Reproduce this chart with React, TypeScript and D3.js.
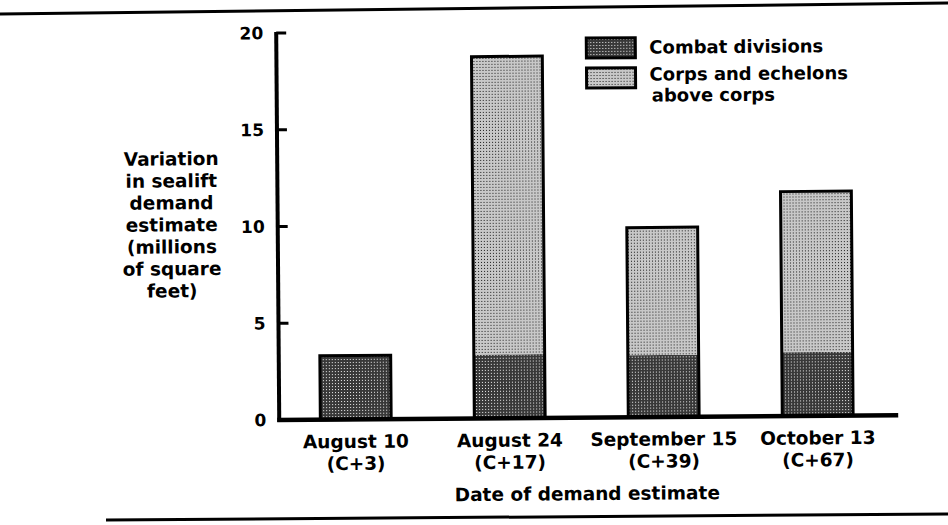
import React from 'react';
import * as d3 from 'd3';

const categories = ['August 10', 'August 24', 'September 15', 'October 13'];
const subLabels = ['(C+3)', '(C+17)', '(C+39)', '(C+67)'];
const combatDivisions = [3.3, 3.3, 3.2, 3.3];
const corpsAndEchelons = [0, 15.4, 6.6, 8.3];
const yTicks = [0, 5, 10, 15, 20];
const seriesKeys = ['combat', 'corps'];
const legendLines = [['Combat divisions'], ['Corps and echelons', 'above corps']];
const yTitleLines = ['Variation', 'in sealift', 'demand', 'estimate', '(millions', 'of square', 'feet)'];
const xTitle = 'Date of demand estimate';

const W = 948;
const H = 525;
const FONT = '"DejaVu Sans", "Liberation Sans", Arial, sans-serif';

export default function App() {
  const rows = categories.map((c, i) => ({ cat: c, combat: combatDivisions[i], corps: corpsAndEchelons[i] }));
  const stack = d3.stack<any>().keys(seriesKeys)(rows);

  const x = d3.scaleBand<string>().domain(categories).range([276, 895]).paddingInner(0.54).paddingOuter(0.28);
  const y = d3.scaleLinear().domain([0, 20]).range([418.5, 31.5]);
  const axisX = 278;
  const fills = ['url(#patDark)', 'url(#patLight)'];

  return (
    <svg width={W} height={H} style={{ position: 'absolute', left: 0, top: 0, background: '#fff' }} fontFamily={FONT}>
      <defs>
        <pattern id="patDark" width="3" height="3" patternUnits="userSpaceOnUse">
          <rect width="3" height="3" fill="#383838" />
          <rect x="1" y="1" width="1" height="1" fill="#eeeeee" />
        </pattern>
        <pattern id="patLight" width="3" height="3" patternUnits="userSpaceOnUse">
          <rect width="3" height="3" fill="#c8c8c8" />
          <rect x="1" y="1" width="1" height="1" fill="#1a1a1a" />
        </pattern>
      </defs>
      <rect width={W} height={H} fill="#fff" />
      {/* frame rules */}
      <line x1={0} y1={14} x2={W} y2={3} stroke="#000" strokeWidth={3} />
      <line x1={106} y1={520} x2={W} y2={514} stroke="#000" strokeWidth={3} />

      <g transform={`rotate(-0.45, 474, 262)`}>
        {/* bars */}
        {stack.map((s, si) =>
          s.map((d, i) => {
            const h = y(d[0]) - y(d[1]);
            if (h <= 0) return null;
            return (
              <rect key={`${si}-${i}`} x={x(categories[i])!} y={y(d[1])} width={x.bandwidth()} height={h} fill={fills[si]} />
            );
          })
        )}
        {rows.map((r, i) => {
          const total = r.combat + r.corps;
          return (
            <rect key={`o${i}`} x={x(r.cat)!} y={y(total)} width={x.bandwidth()} height={y(0) - y(total)}
              fill="none" stroke="#000" strokeWidth={3} />
          );
        })}

        {/* y axis */}
        <line x1={axisX} y1={y(20) - 1} x2={axisX} y2={y(0) + 2} stroke="#000" strokeWidth={4} />
        {yTicks.map((t) => (
          <g key={t}>
            {t > 0 && <line x1={axisX} y1={y(t)} x2={axisX + 10} y2={y(t)} stroke="#000" strokeWidth={3} />}
            <text x={axisX - 13} y={y(t)} dy="0.36em" textAnchor="end" fontSize={17} fontWeight={700}>{t}</text>
          </g>
        ))}
        {/* x axis */}
        <line x1={axisX - 2} y1={y(0)} x2={897} y2={y(0)} stroke="#000" strokeWidth={4.5} />

        {/* x labels */}
        {categories.map((c, i) => {
          const cx = x(c)! + x.bandwidth() / 2;
          return (
            <g key={c}>
              <text x={cx} y={447} textAnchor="middle" fontSize={18.5} fontWeight={700}>{c}</text>
              <text x={cx} y={469} textAnchor="middle" fontSize={18.5} fontWeight={700}>{subLabels[i]}</text>
            </g>
          );
        })}
        <text x={(276 + 895) / 2} y={501} textAnchor="middle" fontSize={18.5} fontWeight={700}>{xTitle}</text>

        {/* y title */}
        {yTitleLines.map((l, i) => (
          <text key={l} x={172} y={163 + i * 22} textAnchor="middle" fontSize={18.5} fontWeight={700}>{l}</text>
        ))}

        {/* legend */}
        {legendLines.map((lines, i) => (
          <g key={i}>
            <rect x={588} y={39 + i * 30} width={49} height={20} fill={fills[i]} stroke="#000" strokeWidth={3} />
            {lines.map((l, j) => (
              <text key={l} x={651 + j * 2} y={55 + i * 27 + j * 21} fontSize={18} fontWeight={700}>{l}</text>
            ))}
          </g>
        ))}
      </g>
    </svg>
  );
}
